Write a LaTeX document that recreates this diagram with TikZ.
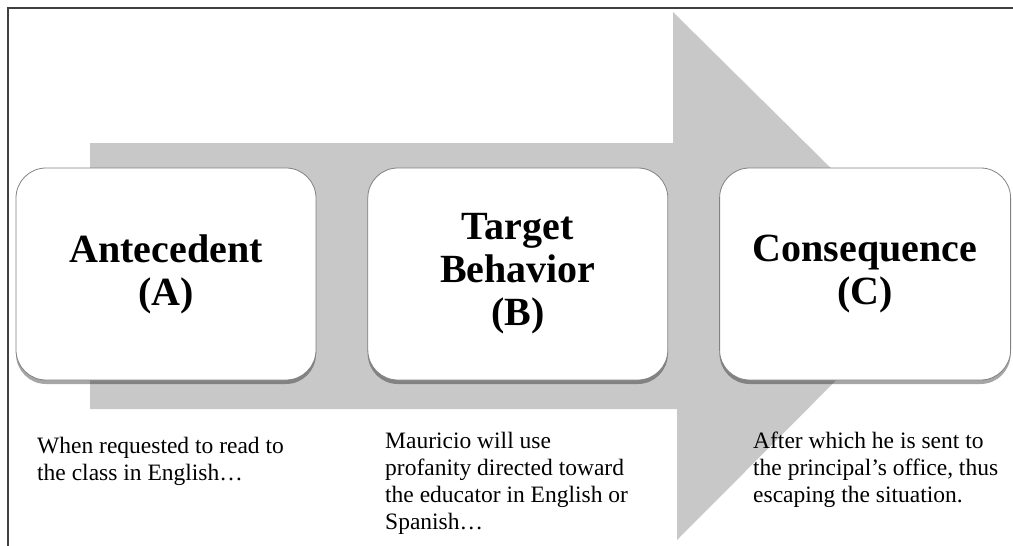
\documentclass[tikz,border=0pt]{standalone}
\usepackage{fontspec}
\setmainfont{Liberation Serif}
\usepackage{tikz}
\usetikzlibrary{positioning,shadows}

\definecolor{arrowgray}{RGB}{200,200,200}
\definecolor{framegray}{RGB}{64,64,64}
\definecolor{boxline}{RGB}{130,130,130}

\begin{document}
\begin{tikzpicture}[x=1pt, y=-1pt,
		abcbox/.style = {draw=boxline, line width=0.8pt, fill=white, rounded corners=30pt,
			minimum height=212pt, align=center, inner sep=0pt,
			font=\fontsize{40}{43}\selectfont\bfseries,
			drop shadow={shadow xshift=0pt, shadow yshift=-4pt, opacity=0.35, fill=black}},
		note/.style = {anchor=north west, align=left, inner sep=0pt,
			font=\fontsize{23.5}{27}\selectfont}
		]
		\useasboundingbox (0,0) rectangle (1013,546);
		
		% frame
		\draw[framegray, line width=2pt] (8,546) -- (8,8) -- (1013,8);
		
		% big arrow
		\fill[arrowgray] (90,143) -- (673,143) -- (673,12) -- (940,276)
			-- (677,540) -- (677,409) -- (90,409) -- cycle;
		
		% boxes
		\node (ante) [abcbox, minimum width=300pt] at (166,274) {Antecedent\\(A)};
		\node (behav) [abcbox, minimum width=300pt, right=51pt of ante] {Target\\Behavior\\(B)};
		\node (conseq) [abcbox, minimum width=291pt, right=51pt of behav] {Consequence\\(C)};
		
		% notes
		\node (anteText) [note] at (37,437) {When requested to read to\\the class in English\ldots};
		\node (behavText) [note] at (385,432) {Mauricio will use\\profanity directed toward\\the educator in English or\\Spanish\ldots};
		\node (conseqText) [note] at (753,432) {After which he is sent to\\the principal's office, thus\\escaping the situation.};
		
\end{tikzpicture}
\end{document}
